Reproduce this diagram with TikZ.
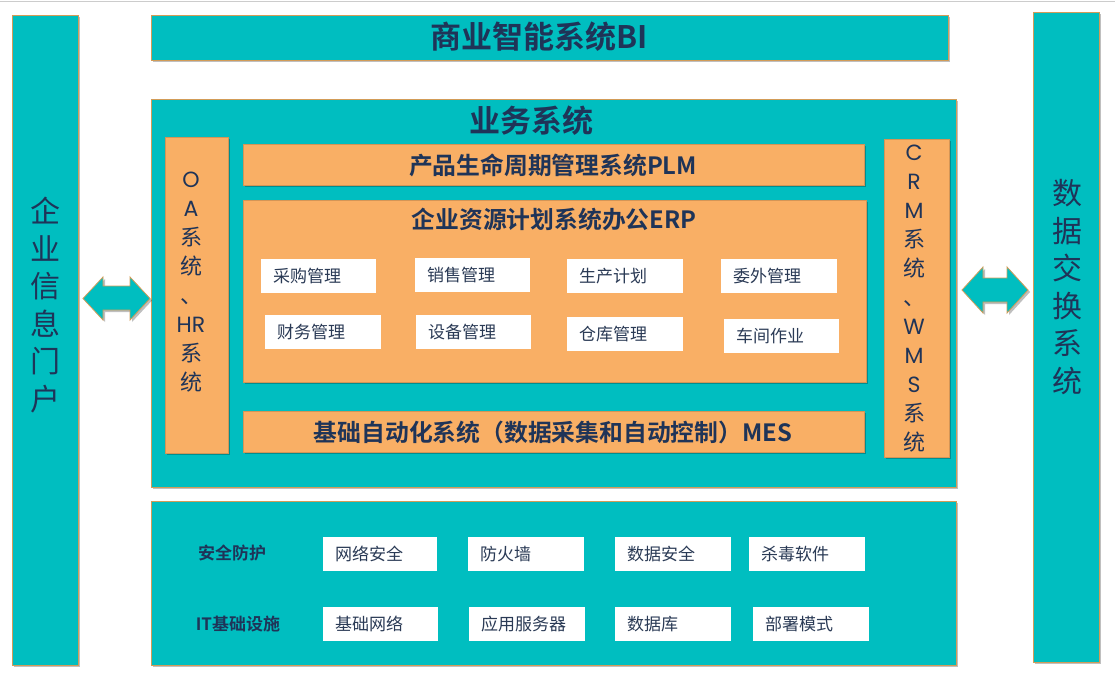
\documentclass[tikz,border=0pt]{standalone}
\usepackage{fontspec}
\setmainfont{Noto Sans CJK SC}[BoldFont={Noto Sans CJK SC Bold}]
\newfontfamily\lat{Poppins}
\usetikzlibrary{shadows}
\definecolor{tealc}{HTML}{00BEC0}
\definecolor{orgc}{HTML}{F9AF65}
\definecolor{navy}{HTML}{1F3458}
\definecolor{edgec}{HTML}{D29C58}
\definecolor{itemc}{HTML}{2A3A55}
\tikzset{
  shad/.style={drop shadow={shadow xshift=2pt,shadow yshift=-2pt,opacity=0.25,fill=black}},
  tealbox/.style={fill=tealc,draw=edgec,line width=0.8pt,shad,inner sep=0pt,anchor=north west},
  orgbox/.style={fill=orgc,draw=orgc!85!black,line width=0.5pt,shad,inner sep=0pt,anchor=north west},
  whitebox/.style={fill=white,inner sep=0pt,anchor=north west},
  itemtxt/.style={text=itemc,font=\fontsize{17}{20}\selectfont,inner sep=0pt,anchor=west},
  titletxt/.style={text=navy,font=\fontsize{31}{36}\selectfont\bfseries,inner sep=0pt},
  subtxt/.style={text=navy,font=\fontsize{23.8}{28}\selectfont\bfseries,inner sep=0pt},
  vtxt/.style={text=navy,font=\fontsize{22}{29}\selectfont,align=center,inner sep=0pt},
  bigvtxt/.style={text=navy,font=\fontsize{30}{37.5}\selectfont,align=center,inner sep=0pt},
  rowlab/.style={text=navy,font=\fontsize{17}{20}\selectfont\bfseries,inner sep=0pt},
  blockarrow/.style={fill=tealc,draw=edgec,line width=0.8pt,shad}
}
\newcommand\wbox[5]{%
  \node[whitebox,minimum width=#4pt,minimum height=34pt] (#1) at (#2,#3) {};
  \node[itemtxt] (#1t) at ([xshift=12pt]#1.west) {#5};}
\begin{document}
\begin{tikzpicture}[x=1pt,y=-1pt]
\useasboundingbox (0,0) rectangle (1115,680);
\fill[white] (0,0) rectangle (1115,680);
\draw[black!20,line width=1pt] (0,1.5) -- (1115,1.5);

% side columns
\node[tealbox,minimum width=66pt,minimum height=650pt] (portal) at (12,15) {};
\node[bigvtxt] (portalt) at (45,305) {企\\业\\信\\息\\门\\户};
\node[tealbox,minimum width=66pt,minimum height=650pt] (exch) at (1033,12) {};
\node[bigvtxt] (excht) at (1067,287) {数\\据\\交\\换\\系\\统};

% BI
\node[tealbox,minimum width=797pt,minimum height=45pt] (bi) at (151,15) {};
\node[titletxt] (bit) at (539,37) {商业智能系统BI};

% business system
\node[tealbox,minimum width=805pt,minimum height=388pt] (biz) at (151,99) {};
\node[titletxt] (bizt) at (531,121) {业务系统};

\node[orgbox,minimum width=63pt,minimum height=316pt] (oa) at (165,137) {};
\node[vtxt] (oat) at (191,282) {{\lat O}\\{\lat A}\\系\\统\\、\\{\lat HR}\\系\\统};
\node[orgbox,minimum width=65pt,minimum height=318pt] (crm) at (884,139) {};
\node[vtxt] (crmt) at (914,299) {{\lat C}\\{\lat R}\\{\lat M}\\系\\统\\、\\{\lat W}\\{\lat M}\\{\lat S}\\系\\统};

\node[orgbox,minimum width=621pt,minimum height=41pt] (plm) at (243,144) {};
\node[subtxt] (plmt) at (553,165) {产品生命周期管理系统PLM};

\node[orgbox,minimum width=623pt,minimum height=182pt] (erp) at (243,200) {};
\node[subtxt] (erpt) at (554,219) {企业资源计划系统办公ERP};

\wbox{e1}{261}{259}{115}{采购管理}
\wbox{e2}{415}{258}{115}{销售管理}
\wbox{e3}{567}{259}{116}{生产计划}
\wbox{e4}{721}{259}{116}{委外管理}
\wbox{e5}{265}{315}{116}{财务管理}
\wbox{e6}{416}{315}{115}{设备管理}
\wbox{e7}{567}{317}{116}{仓库管理}
\wbox{e8}{724}{319}{115}{车间作业}

\node[orgbox,minimum width=621pt,minimum height=41pt] (mes) at (243,411) {};
\node[subtxt] (mest) at (553,432) {基础自动化系统（数据采集和自动控制）MES};

% infrastructure
\node[tealbox,minimum width=805pt,minimum height=164pt] (infra) at (151,501) {};
\node[rowlab] (sec) at (232,553) {安全防护};
\node[rowlab] (itl) at (238,624) {IT基础设施};
\wbox{s1}{323}{537}{114}{网络安全}
\wbox{s2}{468}{537}{116}{防火墙}
\wbox{s3}{615}{537}{116}{数据安全}
\wbox{s4}{749}{537}{116}{杀毒软件}
\wbox{i1}{323}{607}{115}{基础网络}
\wbox{i2}{469}{607}{116}{应用服务器}
\wbox{i3}{615}{607}{116}{数据库}
\wbox{i4}{753}{607}{116}{部署模式}

% block arrows
\path[blockarrow] (83,298.5) -- (103,277) -- (103,286) -- (130,286) -- (130,277)
  -- (150,298.5) -- (130,320) -- (130,310) -- (103,310) -- (103,320) -- cycle;
\path[blockarrow] (962,290) -- (983,267) -- (983,278) -- (1007,278) -- (1007,267)
  -- (1028,290) -- (1007,313) -- (1007,302) -- (983,302) -- (983,313) -- cycle;
\end{tikzpicture}
\end{document}
